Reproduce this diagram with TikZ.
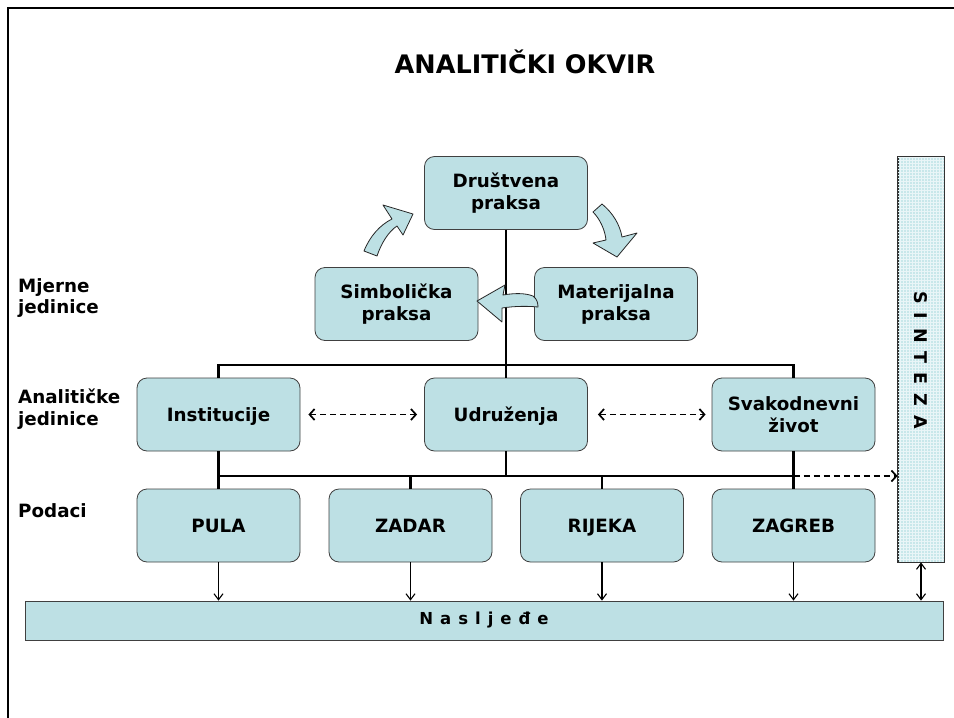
\documentclass[tikz,border=0pt]{standalone}
\usepackage{fontspec}
\setmainfont{DejaVu Sans}
\usetikzlibrary{arrows.meta,patterns}
\definecolor{boxblue}{RGB}{189,224,228}
\definecolor{sintblue}{RGB}{200,231,234}
\begin{document}
\begin{tikzpicture}[x=1pt,y=-1pt,
  box/.style={draw=black!75, line width=0.8pt, fill=boxblue, rounded corners=10pt,
    minimum width=163pt, minimum height=73pt, align=center, inner sep=0pt,
    font=\bfseries\fontsize{18.3}{22}\selectfont},
  single/.style={text height=13.5pt, text depth=0pt},
  conn/.style={line width=2.6pt, black},
  dasharr/.style={line width=1.7pt, dash pattern=on 6pt off 4pt, {Straight Barb[length=5pt,width=11pt]}-{Straight Barb[length=5pt,width=11pt]}},
  downarr/.style={line width=1.1pt, -{Straight Barb[length=6pt,width=9pt]}},
  lbl/.style={anchor=west, align=left, inner sep=0pt, font=\bfseries\fontsize{18.3}{21.5}\selectfont},
  blockarr/.style={draw=black!85, line width=0.8pt, fill=boxblue, line join=round}]
\useasboundingbox (0,0) rectangle (954,718);
\fill[white] (0,0) rectangle (954,718);
% frame
\draw[line width=2pt] (954,8) -- (8,8) -- (8,718);
% title
\node[font=\bfseries\fontsize{25.5}{28}\selectfont] (title) at (525,62) {ANALITIČKI OKVIR};
% boxes
\node[box] (dp) at (506,193) {Društvena\\praksa};
\node[box] (sp) at (396.5,304) {Simbolička\\praksa};
\node[box] (mp) at (616,304) {Materijalna\\praksa};
\node[box,single] (inst) at (218.5,414.5) {Institucije};
\node[box,single] (udr) at (506,414.5) {Udruženja};
\node[box] (svak) at (793.5,414.5) {Svakodnevni\\život};
\node[box,single] (pula) at (218.5,525.5) {PULA};
\node[box,single] (zadar) at (410.5,525.5) {ZADAR};
\node[box,single] (rijeka) at (602,525.5) {RIJEKA};
\node[box,single] (zagreb) at (793.5,525.5) {ZAGREB};
% sinteza
\node[draw=black!80, line width=0.8pt, fill=sintblue, minimum width=46pt, minimum height=405pt, inner sep=0pt] (sint) at (921,359.5) {};
\fill[pattern=grid, pattern color=white!60!sintblue] (sint.north west) rectangle (sint.south east);
\draw[black!80, line width=0.8pt] (sint.north west) rectangle (sint.south east);
\node[rotate=-90, font=\bfseries\fontsize{17.5}{20}\selectfont] (sintxt) at (921,360) {S\hspace{9pt}I\hspace{9pt}N\hspace{9pt}T\hspace{9pt}E\hspace{9pt}Z\hspace{9pt}A};
% nasljede
\node[draw=black!75, line width=0.8pt, fill=boxblue, minimum width=918pt, minimum height=39pt, inner sep=0pt,
  font=\bfseries\fontsize{16.5}{18}\selectfont] (nasl) at (484,620.5) {N\hspace{7pt}a\hspace{7pt}s\hspace{7pt}l\hspace{7pt}j\hspace{7pt}e\hspace{7pt}đ\hspace{7pt}e};
% left labels
\node[lbl] (mj) at (18,298) {Mjerne\\jedinice};
\node[lbl] (an) at (18,409) {Analitičke\\jedinice};
\node[lbl] (pod) at (18,511) {Podaci};
% connectors
\coordinate (h1) at (506,365);
\coordinate (h2) at (506,476);
\draw[conn] (dp.south) -- (udr.north);
\draw[conn] (inst.north) -- (inst.north|-h1) -- (svak.north|-h1) -- (svak.north);
\draw[conn] (udr.south) -- (h2);
\draw[conn] (inst.south) -- (pula.north);
\draw[conn] (svak.south) -- (zagreb.north);
\draw[conn] (pula.north|-h2) -- (zagreb.north|-h2);
\draw[conn] (zadar.north|-h2) -- (zadar.north);
\draw[conn] (rijeka.north|-h2) -- (rijeka.north);
% dashed arrows
\draw[dasharr] ([xshift=8pt]inst.east) -- ([xshift=-7pt]udr.west);
\draw[dasharr] ([xshift=10pt]udr.east) -- ([xshift=-6pt]svak.west);
\draw[line width=1.7pt, dash pattern=on 6pt off 4pt, -{Straight Barb[length=5pt,width=11pt]}] (zagreb.north|-h2) -- (sint.west|-h2);
% down arrows
\draw[downarr] (pula.south) -- (pula.south|-nasl.north);
\draw[downarr] (zadar.south) -- (zadar.south|-nasl.north);
\draw[downarr] (rijeka.south) -- (rijeka.south|-nasl.north);
\draw[downarr] (zagreb.south) -- (zagreb.south|-nasl.north);
\draw[line width=1.1pt, {Straight Barb[length=6pt,width=9pt]}-{Straight Barb[length=6pt,width=9pt]}] (sint.south) -- (sint.south|-nasl.north);
% block arrows
\draw[blockarr] (364,251) .. controls (370,236) and (380,225) .. (392,219) -- (383,205) -- (413,214) -- (403,235) -- (397,226)
  .. controls (388,232) and (381,244) .. (377,256) -- cycle;
\draw[blockarr] (593,212) -- (602,204) .. controls (613,213) and (620,225) .. (622,237) -- (637,233) -- (617,257) -- (593,243) -- (606,240)
  .. controls (605,230) and (600,219) .. cycle;
\draw[blockarr] (477,301) -- (505,285) -- (503,295) .. controls (515,293) and (525,293) .. (533,296) .. controls (537,299) and (538,303) .. (538,307)
  .. controls (528,306) and (515,306) .. (502,308) -- (502,322) -- cycle;
\end{tikzpicture}
\end{document}
